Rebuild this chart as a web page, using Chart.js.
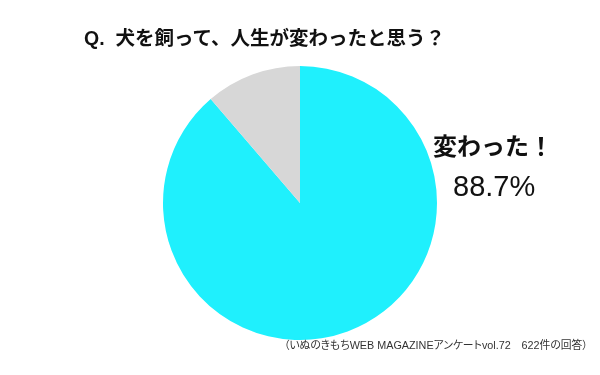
<!DOCTYPE html>
<html lang="ja">
<head>
<meta charset="utf-8">
<script src="https://cdn.jsdelivr.net/npm/chart.js@4.4.1/dist/chart.umd.min.js"></script>
<style>
  html, body { margin: 0; padding: 0; background: #fff; }
  .wrap { position: relative; width: 600px; height: 375px; overflow: hidden; font-family: "Liberation Sans", "Noto Sans CJK JP", sans-serif; color: #111; }
  .wrap canvas { position: absolute; left: 0; top: 0; }
  .txt { position: absolute; white-space: pre; line-height: 1; }
  #title { left: 84px; top: 29px; font-size: 19.5px; font-weight: 700; }
  #answer { left: 433px; top: 135px; font-size: 24px; font-weight: 700; }
  #share { left: 453px; top: 172px; font-size: 29px; font-weight: 400; }
  #source { left: 284px; top: 340px; font-size: 10.8px; color: #333; font-feature-settings: "palt"; }
</style>
</head>
<body>
<div class="wrap">
  <canvas id="chart" width="600" height="375"></canvas>
  <div class="txt" id="title"></div>
  <div class="txt" id="answer"></div>
  <div class="txt" id="share"></div>
  <div class="txt" id="source"></div>
</div>
<script>
const question = "Q.  犬を飼って、人生が変わったと思う？";
const answers = ["変わった！", "変わっていない"];
const shares = [88.7, 11.3];
const colors = ["#1ff0fd", "#d7d7d7"];
const sourceNote = "（いぬのきもちWEB MAGAZINEアンケートvol.72　622件の回答）";

document.getElementById("title").textContent = question;
document.getElementById("answer").textContent = answers[0];
document.getElementById("share").textContent = shares[0].toFixed(1) + "%";
document.getElementById("source").textContent = sourceNote;

new Chart(document.getElementById("chart"), {
  type: "pie",
  data: {
    labels: answers,
    datasets: [{
      data: shares,
      backgroundColor: colors,
      borderWidth: 0
    }]
  },
  options: {
    responsive: false,
    animation: false,
    layout: { padding: { top: 66, bottom: 35, left: 0, right: 0 } },
    plugins: {
      legend: { display: false },
      tooltip: { enabled: false }
    }
  }
});
</script>
</body>
</html>
